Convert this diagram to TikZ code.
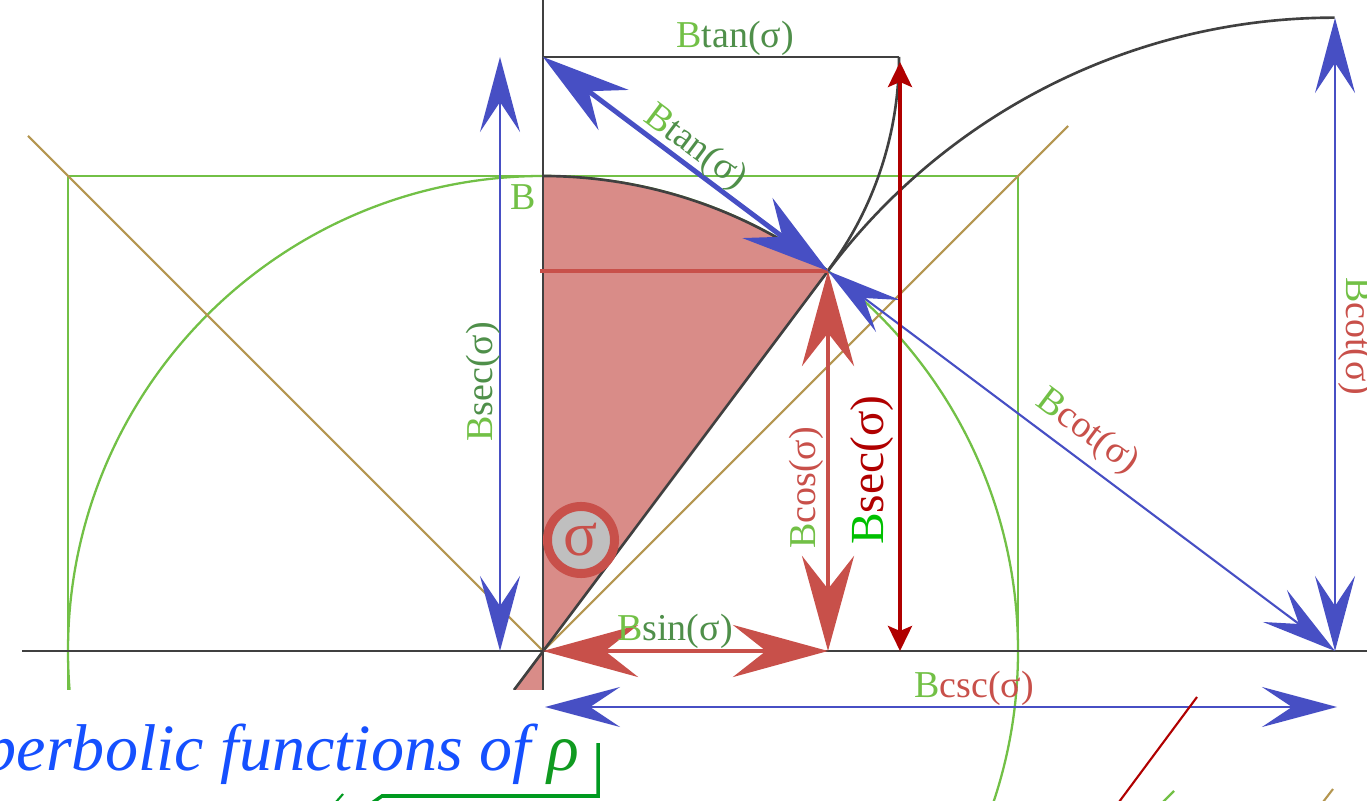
\documentclass[tikz,border=0pt]{standalone}
\usepackage{fontspec}
\setmainfont{Liberation Serif}[ItalicFont={Liberation Serif Italic}]
\usetikzlibrary{arrows.meta}
\definecolor{dk}{HTML}{404040}
\definecolor{gB}{HTML}{72C046}
\definecolor{gT}{HTML}{4F8F4A}
\definecolor{br}{HTML}{B49650}
\definecolor{bl}{HTML}{474FC4}
\definecolor{rd}{HTML}{C8504A}
\definecolor{pk}{HTML}{D98C88}
\definecolor{drd}{HTML}{B00000}
\definecolor{bigG}{HTML}{00C000}
\definecolor{tb}{HTML}{1550FF}
\definecolor{rhoG}{HTML}{109A20}
\definecolor{brk}{HTML}{009A20}
\begin{document}
\begin{tikzpicture}[x=0.01cm,y=0.01cm,
  dkline/.style={draw=dk, line width=0.75pt},
  gline/.style={draw=gB, line width=0.65pt},
  brline/.style={draw=br, line width=0.6pt},
  bthin/.style={draw=bl, line width=0.6pt,
    {Stealth[length=0.75cm,width=0.4cm,inset=0.3cm]}-{Stealth[length=0.75cm,width=0.4cm,inset=0.3cm]}},
  bthick/.style={draw=bl, line width=1.4pt,
    {Stealth[length=0.88cm,width=0.5cm,inset=0.31cm]}-{Stealth[length=0.88cm,width=0.5cm,inset=0.31cm]}},
  rthick/.style={draw=rd, line width=1.4pt,
    {Stealth[length=0.95cm,width=0.52cm,inset=0.33cm]}-{Stealth[length=0.95cm,width=0.52cm,inset=0.33cm]}},
  drarrow/.style={draw=drd, line width=1.1pt,
    {Stealth[length=0.25cm,width=0.24cm,inset=0.05cm]}-{Stealth[length=0.25cm,width=0.24cm,inset=0.05cm]}},
  lbl/.style={font=\fontsize{10.8}{12}\selectfont, inner sep=0pt},
]
\useasboundingbox (0,0) rectangle (1367,800);
\clip (0,0) rectangle (1367,800);
% key points
\coordinate (O) at (543,149);
\coordinate (A) at (543,624);
\coordinate (P) at (828,529);
\coordinate (Q) at (828,149);
\coordinate (T) at (543,743);
\coordinate (S) at (899,743);
\coordinate (C) at (1335,149);
\coordinate (Ct) at (1335,782);
\coordinate (Sb) at (900,149);
\coordinate (St) at (900,738);
\coordinate (Lb) at (500,149);
\coordinate (Lt) at (500,743);
\coordinate (Cl) at (545,93);
\coordinate (Cr) at (1337,93);
\coordinate (Rl) at (540,529);
\coordinate (Ob) at (543,110);
\coordinate (Ox) at (514,110);
% green square and circle
\draw[gline] (68,110) -- (68,624) -- (1018,624) -- (1018,149);
\draw[gline] (O) circle[radius=475];
% brown diagonals
\draw[brline] (O) -- (28,664);
\draw[brline] (O) -- (1068,674);
% pink sector
\fill[pk] (O) -- (A) arc[start angle=90, end angle=53.13, radius=475] -- cycle;
\fill[pk] (O) -- (Ob) -- (Ox) -- cycle;
% dark lines
\draw[dkline] (22,149) -- (1367,149);
\draw[dkline] (543,800) -- (Ob);
\draw[dkline] (Ox) -- (P);
\draw[dkline] (A) arc[start angle=90, end angle=53.13, radius=475];
\draw[dkline] (T) -- (S);
\draw[dkline] (S) arc[start angle=0, end angle=-36.87, radius=356.25];
\draw[dkline] (P) arc[start angle=143.13, end angle=90, radius=633.3];
% red
\draw[rd, line width=1.4pt] (Rl) -- (P);
\draw[rthick] (O) -- (Q);
\draw[rthick] (Q) -- (P);
% blue
\draw[bthin] (Lt) -- (Lb);
\draw[bthin] (Ct) -- (C);
\draw[bthin] (P) -- (C);
\draw[bthick] (T) -- (P);
% dark red
\draw[drarrow] (St) -- (Sb);
% labels
\node[lbl] (lTanTop) at (735,762) {{\color{gB}B}{\color{gT}tan(σ)}};
\node[lbl, rotate=-36.87] (lTanDiag) at (695,652) {{\color{gB}B}{\color{gT}tan(σ)}};
\node[lbl] (lB) at (523,603) {\color{gB}B};
\node[lbl, rotate=90] (lSecL) at (483,418) {{\color{gB}B}{\color{gT}sec(σ)}};
\node[lbl, rotate=90] (lCos) at (806,312) {{\color{gB}B}{\color{rd}cos(σ)}};
\node[lbl, rotate=90, font=\fontsize{13.5}{15}\selectfont] (lSecBig) at (872,330) {{\color{bigG}B}{\color{drd}sec(σ)}};
\node[lbl] (lSin) at (675,169) {{\color{gB}B}{\color{gT}sin(σ)}};
\node[lbl] (lCsc) at (974,112) {{\color{gB}B}{\color{rd}csc(σ)}};
\node[lbl, rotate=-36.9] (lCotDiag) at (1087,368) {{\color{gB}B}{\color{rd}cot(σ)}};
\node[lbl, rotate=-90] (lCotR) at (1356,464) {{\color{gB}B}{\color{rd}cot(σ)}};
% sigma badge
\node[circle, fill=black!25, draw=rd, line width=2.56pt, minimum size=0.67cm, inner sep=0pt,
  text=rd, font=\fontsize{18}{20}\selectfont] (sig) at (581,260) {σ};
% bottom area
\fill[white] (-5,-5) rectangle (548,110);
\draw[bthin] (Cl) -- (Cr);
\node[anchor=base east, inner sep=0pt, text=tb, font=\fontsize{18.8}{20}\selectfont\itshape] (title) at (580,30)
  {Hyperbolic functions of {\color{rhoG}ρ}};
\draw[brk, line width=1pt] (598,57) -- (598,4) -- (382,4) -- (355,-15);
\draw[brk, line width=0.6pt] (336,-2) -- (343,6);
\draw[drd, line width=0.6pt] (1197,103) -- (1119,-2);
\draw[gline] (1163,-2) -- (1174,9);
\draw[brline] (1323,-2) -- (1333,11);
\end{tikzpicture}
\end{document}
